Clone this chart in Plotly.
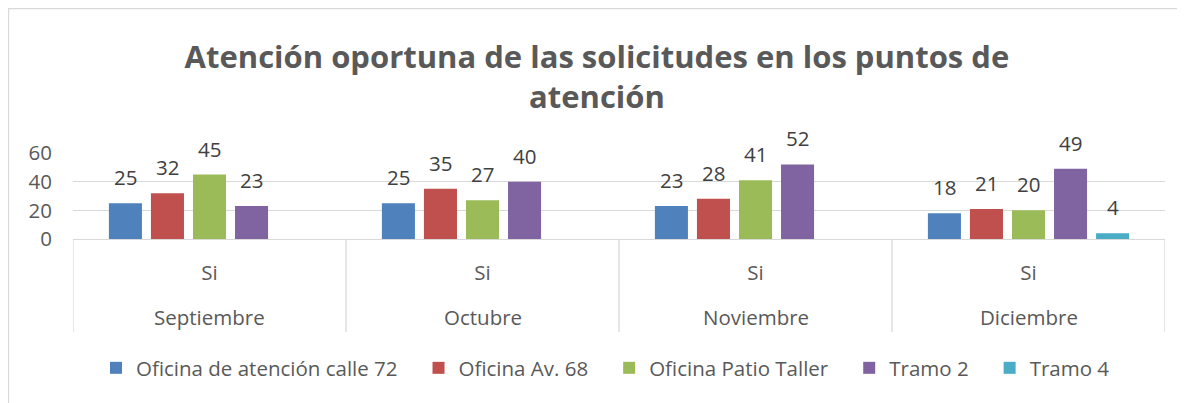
import plotly.graph_objects as go

months = ["Septiembre", "Octubre", "Noviembre", "Diciembre"]
sub = ["Si", "Si", "Si", "Si"]
series_names = ["Oficina de atención calle 72", "Oficina Av. 68", "Oficina Patio Taller", "Tramo 2", "Tramo 4"]
oficina72 = [25, 25, 23, 18]
av68 = [32, 35, 28, 21]
patio = [45, 27, 41, 20]
tramo2 = [23, 40, 52, 49]
tramo4 = [None, None, None, 4]
colors = ["#4F81BD", "#C0504D", "#9BBB59", "#8064A2", "#4BACC6"]
y_ticks = [0, 20, 40, 60]

FONT = "Open Sans, sans-serif"
FS = 20.5
W, H = 1185, 403
L, R, T, B = 65, 28, 145, 172
PW, PH = W - L - R, H - T - B
BARGAP = 0.23
NS = len(series_names)

def px(x):
    return (x - L) / PW

def py(y):
    return (H - B - y) / PH

fig = go.Figure()
all_vals = [oficina72, av68, patio, tramo2, tramo4]
for k, (name, vals, c) in enumerate(zip(series_names, all_vals, colors)):
    fig.add_trace(go.Bar(
        x=months, y=vals, name=name + "\u00a0\u00a0\u00a0",
        marker=dict(color=c, line=dict(width=0)),
    ))
    slot = (1 - BARGAP) / NS
    for i, v in enumerate(vals):
        if v is None:
            continue
        fig.add_annotation(x=i + (k - (NS - 1) / 2) * slot, y=v, xref="x", yref="y",
                           text=str(v), showarrow=False, yanchor="bottom", yshift=10,
                           font=dict(size=FS, color="#404040", family=FONT))

for i, m in enumerate(months):
    fig.add_annotation(x=i, y=py(309), xref="x", yref="paper", text=m, showarrow=False,
                       yanchor="middle", font=dict(size=FS, color="#595959", family=FONT))

fig.update_layout(
    width=W, height=H,
    paper_bgcolor="white", plot_bgcolor="white",
    margin=dict(l=L, r=R, t=T, b=B),
    barmode="group", bargap=BARGAP, bargroupgap=0.214,
    title=dict(text="Atención oportuna de las solicitudes en los puntos de<br>atención",
               x=0.497, xanchor="center", y=1 - 60 / H, yanchor="middle",
               font=dict(family=FONT, size=31, color="#595959", weight="bold")),
    font=dict(family=FONT, size=FS, color="#595959"),
    legend=dict(orientation="h", x=px(88), xanchor="left", y=py(360), yanchor="middle",
                font=dict(size=FS, color="#595959", family=FONT), itemwidth=30, traceorder="normal"),
    showlegend=True,
)
fig.update_yaxes(range=[0, 60], tickvals=y_ticks, showgrid=True, gridcolor="#D9D9D9", gridwidth=1.3,
                 zeroline=False, showline=False, ticks="", tickfont=dict(size=FS, color="#595959"),
                 ticklabelstandoff=20, automargin=False)
fig.update_xaxes(showline=True, linecolor="#D9D9D9", linewidth=1.3, ticks="", showgrid=False,
                 tickvals=months, ticktext=sub,
                 tickfont=dict(size=FS, color="#595959"), ticklabelstandoff=15, automargin=False,
                 range=[-0.5, len(months) - 0.5])
for i in range(len(months) + 1):
    fig.add_shape(type="line", xref="x", yref="paper", x0=i - 0.5, x1=i - 0.5, y0=0, y1=py(324),
                  line=dict(color="#D9D9D9", width=1.3))
fig.add_shape(type="rect", xref="paper", yref="paper",
              x0=px(0.5), x1=px(W + 5), y0=py(H + 5), y1=py(0.5),
              line=dict(color="#D9D9D9", width=1.3), fillcolor="rgba(0,0,0,0)", layer="below")
fig.write_html("out.html")
